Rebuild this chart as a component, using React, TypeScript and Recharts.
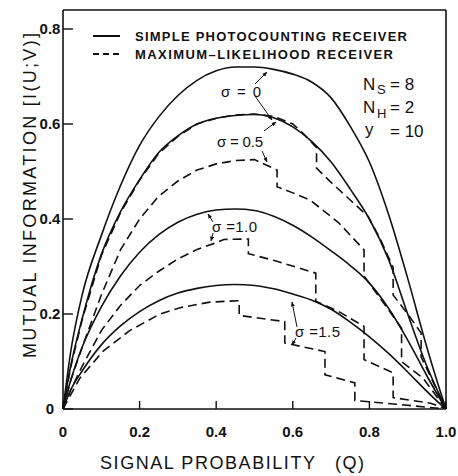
import { LineChart, Line, XAxis, YAxis } from 'recharts';

const W = 458;
const H = 476;
const INK = '#111';
const FONT = '"Liberation Sans", Arial, sans-serif';

const qTicks = [0, 0.2, 0.4, 0.6, 0.8, 1.0];
const qTickLabels = ['0', '0.2', '0.4', '0.6', '0.8', '1.0'];
const infoTicks = [0, 0.2, 0.4, 0.6, 0.8];
const infoTickLabels = ['0', '0.2', '0.4', '0.6', '0.8'];

// signal probability Q for the smooth (simple photocounting) curves
const qGrid = [0, 0.02, 0.05, 0.1, 0.15, 0.2, 0.25, 0.3, 0.35, 0.4, 0.45, 0.5, 0.55, 0.6, 0.65, 0.7, 0.75, 0.8, 0.85, 0.9, 0.95, 0.98, 1];
const simpleS0 = [0, 0.12, 0.24, 0.365, 0.47, 0.555, 0.615, 0.66, 0.692, 0.712, 0.72, 0.72, 0.715, 0.705, 0.688, 0.655, 0.595, 0.52, 0.41, 0.275, 0.13, 0.05, 0];
const simpleS05 = [0, 0.09, 0.19, 0.325, 0.415, 0.483, 0.54, 0.575, 0.6, 0.612, 0.618, 0.62, 0.613, 0.594, 0.563, 0.52, 0.463, 0.4, 0.315, 0.2, 0.09, 0.035, 0];
const simpleS10 = [0, 0.06, 0.13, 0.215, 0.28, 0.33, 0.367, 0.393, 0.41, 0.419, 0.421, 0.418, 0.406, 0.387, 0.362, 0.333, 0.302, 0.265, 0.212, 0.145, 0.07, 0.027, 0];
const simpleS15 = [0, 0.04, 0.08, 0.135, 0.175, 0.205, 0.228, 0.244, 0.254, 0.26, 0.262, 0.26, 0.253, 0.242, 0.229, 0.21, 0.183, 0.152, 0.117, 0.078, 0.037, 0.014, 0];

// maximum-likelihood receiver: staircase curves, each with its own Q list
const mlS0Q = [0, 0.02, 0.05, 0.1, 0.15, 0.2, 0.25, 0.3, 0.35, 0.4, 0.45, 0.5, 0.55, 0.6, 0.63, 0.662, 0.662, 0.7, 0.75, 0.797, 0.83, 0.862, 0.862, 0.9, 0.935, 0.935, 0.97, 1];
const mlS0 = [0, 0.088, 0.188, 0.323, 0.413, 0.482, 0.538, 0.574, 0.6, 0.612, 0.619, 0.621, 0.616, 0.6, 0.578, 0.55, 0.507, 0.477, 0.44, 0.405, 0.355, 0.298, 0.24, 0.2, 0.16, 0.11, 0.05, 0];
const mlS05Q = [0, 0.02, 0.05, 0.1, 0.15, 0.2, 0.25, 0.3, 0.35, 0.4, 0.45, 0.5, 0.559, 0.559, 0.6, 0.645, 0.72, 0.786, 0.786, 0.84, 0.884, 0.884, 0.94, 1];
const mlS05 = [0, 0.06, 0.13, 0.24, 0.335, 0.4, 0.448, 0.48, 0.503, 0.516, 0.523, 0.525, 0.503, 0.468, 0.455, 0.44, 0.392, 0.335, 0.28, 0.22, 0.17, 0.1, 0.065, 0];
const mlS10Q = [0, 0.02, 0.05, 0.1, 0.15, 0.2, 0.25, 0.3, 0.35, 0.4, 0.42, 0.484, 0.484, 0.55, 0.66, 0.66, 0.72, 0.786, 0.786, 0.862, 0.862, 0.96, 1];
const mlS10 = [0, 0.04, 0.09, 0.165, 0.218, 0.26, 0.29, 0.316, 0.336, 0.35, 0.357, 0.358, 0.327, 0.313, 0.286, 0.227, 0.205, 0.174, 0.104, 0.076, 0.024, 0.012, 0];
const mlS15Q = [0, 0.02, 0.044, 0.105, 0.174, 0.253, 0.31, 0.383, 0.46, 0.46, 0.579, 0.579, 0.684, 0.684, 0.762, 0.762, 0.87, 1];
const mlS15 = [0, 0.03, 0.065, 0.122, 0.165, 0.2, 0.214, 0.225, 0.228, 0.197, 0.184, 0.139, 0.121, 0.072, 0.055, 0.018, 0.01, 0];

const toPts = (qs: number[], vals: number[]) => qs.map((q, k) => ({ q, v: vals[k] }));

const textStyle = { fontFamily: FONT, fill: INK };

const BottomTick = (props: any) => {
  const { x, y, payload } = props;
  const label = qTickLabels[qTicks.indexOf(payload.value)];
  return (
    <g>
      <line x1={x} y1={y} x2={x} y2={y - 8} stroke={INK} strokeWidth={1.4} />
      <text x={x} y={y + 28} textAnchor="middle" fontSize={15} fontWeight="bold" {...textStyle}>{label}</text>
    </g>
  );
};

const TopTick = (props: any) => {
  const { x, y } = props;
  return <line x1={x} y1={y} x2={x} y2={y + 8} stroke={INK} strokeWidth={1.4} />;
};

const LeftTick = (props: any) => {
  const { x, y, payload } = props;
  const label = infoTickLabels[infoTicks.indexOf(payload.value)];
  return (
    <g>
      <line x1={x} y1={y} x2={x + 10} y2={y} stroke={INK} strokeWidth={1.4} />
      <text x={x - 13} y={y + 5} textAnchor="middle" fontSize={15} fontWeight="bold" {...textStyle}>{label}</text>
    </g>
  );
};

const RightTick = (props: any) => {
  const { x, y } = props;
  return <line x1={x} y1={y} x2={x - 10} y2={y} stroke={INK} strokeWidth={1.4} />;
};

// annotation arrows (pixel positions in the figure)
const arrows = [
  [255, 84, 267, 72], [255, 96, 272, 120],
  [264, 131, 276, 122], [262, 151, 267, 162],
  [213, 222, 208, 214], [213, 233, 211, 241],
  [297, 327, 292, 302], [296, 338, 292, 345],
];

export default function App() {
  const axisLine = { stroke: INK, strokeWidth: 1.6 };
  const solid = { stroke: INK, strokeWidth: 1.6, dot: false, isAnimationActive: false, type: 'monotone' as const };
  const dashed = { stroke: INK, strokeWidth: 1.6, dot: false, isAnimationActive: false, type: 'linear' as const, strokeDasharray: '9 5' };

  return (
    <div style={{ position: 'absolute', left: 0, top: 0, width: W, height: H, background: '#fff' }}>
      <LineChart width={W} height={H} margin={{ top: 9, right: 11, bottom: 66, left: 62 }}>
        <XAxis dataKey="q" type="number" domain={[0, 1]} ticks={qTicks} interval={0} height={1}
          tickSize={0} tickMargin={0} tickLine={false} axisLine={axisLine} tick={<BottomTick />} />
        <XAxis xAxisId="top" orientation="top" dataKey="q" type="number" domain={[0, 1]} ticks={qTicks.slice(1, 5)} interval={0}
          height={1} tickSize={0} tickMargin={0} tickLine={false} axisLine={axisLine} tick={<TopTick />} />
        <YAxis type="number" domain={[0, 0.84]} ticks={infoTicks} interval={0} width={1} allowDataOverflow
          tickSize={0} tickMargin={0} tickLine={false} axisLine={axisLine} tick={<LeftTick />} />
        <YAxis yAxisId="right" orientation="right" type="number" domain={[0, 0.84]} ticks={infoTicks.slice(1)} interval={0}
          width={1} tickSize={0} tickMargin={0} tickLine={false} axisLine={axisLine} tick={<RightTick />} />

        <Line data={toPts(qGrid, simpleS0)} dataKey="v" {...solid} />
        <Line data={toPts(qGrid, simpleS05)} dataKey="v" {...solid} />
        <Line data={toPts(qGrid, simpleS10)} dataKey="v" {...solid} />
        <Line data={toPts(qGrid, simpleS15)} dataKey="v" {...solid} />
        <Line data={toPts(mlS0Q, mlS0)} dataKey="v" {...dashed} />
        <Line data={toPts(mlS05Q, mlS05)} dataKey="v" {...dashed} />
        <Line data={toPts(mlS10Q, mlS10)} dataKey="v" {...dashed} />
        <Line data={toPts(mlS15Q, mlS15)} dataKey="v" {...dashed} />
      </LineChart>

      <svg width={W} height={H} style={{ position: 'absolute', left: 0, top: 0, pointerEvents: 'none' }}>
        <defs>
          <marker id="ah" viewBox="0 0 10 10" refX="9" refY="5" markerWidth="5" markerHeight="5" orient="auto">
            <path d="M0,1 L10,5 L0,9 z" fill={INK} />
          </marker>
        </defs>

        {/* legend */}
        <line x1={93} y1={36} x2={120} y2={36} stroke={INK} strokeWidth={2} />
        <line x1={93} y1={54} x2={120} y2={54} stroke={INK} strokeWidth={2} strokeDasharray="6 4" />
        <text x={135} y={41} fontSize={13} fontWeight="bold" textLength={272} lengthAdjust="spacing" {...textStyle}>SIMPLE PHOTOCOUNTING RECEIVER</text>
        <text x={135} y={59} fontSize={13} fontWeight="bold" textLength={258} lengthAdjust="spacing" {...textStyle}>MAXIMUM–LIKELIHOOD RECEIVER</text>

        {/* parameters */}
        <text x={363} y={90} fontSize={17} {...textStyle}>N</text>
        <text x={377} y={94} fontSize={13} {...textStyle}>S</text>
        <text x={390} y={90} fontSize={17} {...textStyle}>= 8</text>
        <text x={363} y={113} fontSize={17} {...textStyle}>N</text>
        <text x={377} y={118} fontSize={13} {...textStyle}>H</text>
        <text x={390} y={113} fontSize={17} {...textStyle}>= 2</text>
        <text x={365} y={135} fontSize={17} {...textStyle}>y</text>
        <text x={390} y={137} fontSize={17} {...textStyle}>= 10</text>

        {/* sigma labels */}
        <text x={221} y={97} fontSize={15} textLength={40} lengthAdjust="spacing" {...textStyle}>σ = 0</text>
        <text x={217} y={147} fontSize={15} textLength={46} lengthAdjust="spacing" {...textStyle}>σ = 0.5</text>
        <text x={212} y={232} fontSize={15} textLength={45} lengthAdjust="spacing" {...textStyle}>σ =1.0</text>
        <text x={295} y={337} fontSize={15} textLength={45} lengthAdjust="spacing" {...textStyle}>σ =1.5</text>
        {arrows.map(([x1, y1, x2, y2], k) => (
          <line key={k} x1={x1} y1={y1} x2={x2} y2={y2} stroke={INK} strokeWidth={1} markerEnd="url(#ah)" />
        ))}

        {/* axis titles */}
        <text x={100} y={469} fontSize={18} textLength={215} lengthAdjust="spacing" {...textStyle}>SIGNAL PROBABILITY</text>
        <text x={335} y={469} fontSize={18} textLength={29} lengthAdjust="spacing" {...textStyle}>(Q)</text>
        <text transform="translate(36,358) rotate(-90)" x={0} y={0} fontSize={18} textLength={325} lengthAdjust="spacing" {...textStyle}>MUTUAL INFORMATION [I(U;V)]</text>
      </svg>
    </div>
  );
}
